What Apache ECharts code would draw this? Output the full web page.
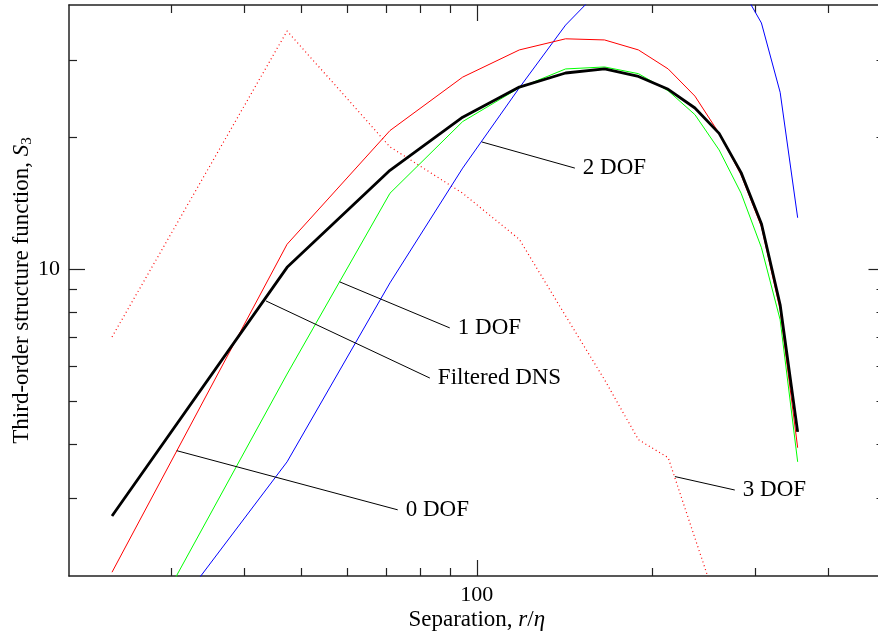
<!DOCTYPE html>
<html><head><meta charset="utf-8">
<script src="https://cdn.jsdelivr.net/npm/echarts@6/dist/echarts.min.js"></script>
<style>html,body{margin:0;padding:0;background:#fff}#c{width:878px;height:637px}</style>
</head><body><div id="c"></div>
<script>
// Separation r/eta (x values, shared by all curves)
const rEta = [23.7, 47.3, 71.0, 94.6, 118.3, 142.0, 165.6, 189.3, 212.9, 236.6, 260.3, 283.9, 307.6, 331.2, 354.9];
// Third-order structure function S3
const filteredDNS = [2.74, 10.1, 16.8, 22.2, 26.0, 28.0, 28.6, 27.5, 25.7, 23.3, 20.4, 16.6, 12.7, 8.30, 4.26];
const dof0 = [2.04, 11.4, 20.7, 27.4, 31.6, 33.5, 33.3, 31.6, 28.6, 24.8, 20.4, 16.4, 12.5, 8.08, 3.92];
const dof1 = [1.08, 5.77, 14.9, 21.7, 25.9, 28.6, 28.9, 27.9, 25.5, 22.5, 18.7, 14.9, 11.2, 7.67, 3.64];
const dof2 = [1.08, 3.64, 9.31, 17.0, 25.9, 36.0, 44.4, 50.0, 53.0, 54.0, 51.0, 43.9, 36.4, 25.3, 13.1];
const dof3 = [7.01, 34.9, 19.0, 14.9, 11.7, 7.83, 5.60, 4.09, 3.72, 2.44, 1.67];

// Annotation leader lines (data coordinates) and labels
const annoLabels = ['2 DOF', '1 DOF', 'Filtered DNS', '0 DOF', '3 DOF'];
const annoFrom = [[102.0, 19.5], [58.2, 9.36], [43.5, 8.47], [30.6, 3.86], [218.6, 3.37]];
const annoTo   = [[147.3, 17.0], [89.9, 7.35], [83.1, 5.65], [73.2, 2.83], [276.9, 3.14]];

// Axis ranges and ticks
const xRange = [20, 500];
const yRange = [2, 40];
const xMajorTicks = [100];
const xMinorTicks = [30, 40, 50, 60, 70, 80, 90, 200, 300, 400];
const yMajorTicks = [10];
const yMinorTicks = [3, 4, 5, 6, 7, 8, 9, 20, 30];

const FONT = '"Liberation Serif", "DejaVu Serif", serif';
const AX = '#222';
const FS = 23;

function pairs(xs, ys) { return ys.map((v, i) => [xs[i], v]); }

function xAx(pos, ticks, len, withLine, withLabel) {
  return {
    type: 'log', min: xRange[0], max: xRange[1], position: pos,
    axisLine: { show: withLine, lineStyle: { color: AX, width: 1.5 } },
    axisTick: { show: true, inside: true, length: len, customValues: ticks, lineStyle: { color: AX, width: 1.2 } },
    axisLabel: withLabel ? { show: true, customValues: ticks, margin: 8, fontFamily: FONT, fontSize: 22, color: '#000' } : { show: false },
    splitLine: { show: false }, minorTick: { show: false }
  };
}
function yAx(pos, ticks, len, withLine, withLabel) {
  return {
    type: 'log', min: yRange[0], max: yRange[1], position: pos,
    axisLine: { show: withLine, lineStyle: { color: AX, width: 1.5 } },
    axisTick: { show: true, inside: true, length: len, customValues: ticks, lineStyle: { color: AX, width: 1.2 } },
    axisLabel: withLabel ? { show: true, customValues: ticks, margin: 9, fontFamily: FONT, fontSize: 22, color: '#000' } : { show: false },
    splitLine: { show: false }, minorTick: { show: false }
  };
}

const xAxes = [
  Object.assign(xAx('bottom', xMajorTicks, 16, true, true), {
    name: 'Separation, {i|r}/{i|η}', nameLocation: 'middle', nameGap: 32, nameMoveOverlap: false,
    nameTextStyle: { fontFamily: FONT, fontSize: FS, color: '#000',
      rich: { i: { fontFamily: FONT, fontSize: FS, fontStyle: 'italic', color: '#000' } } }
  }),
  xAx('bottom', xMinorTicks, 8, false, false),
  xAx('top', xMajorTicks, 16, true, false),
  xAx('top', xMinorTicks, 8, false, false)
];
const yAxes = [
  Object.assign(yAx('left', yMajorTicks, 16, true, true), {
    name: 'Third-order structure function, {i|S}{s|3}', nameLocation: 'middle', nameGap: 34, nameMoveOverlap: false,
    nameTextStyle: { fontFamily: FONT, fontSize: FS, color: '#000',
      rich: { i: { fontFamily: FONT, fontSize: FS, fontStyle: 'italic', color: '#000' },
              s: { fontFamily: FONT, fontSize: 15, color: '#000', padding: [12, 0, 0, 0] } } }
  }),
  yAx('left', yMinorTicks, 8, false, false),
  yAx('right', yMajorTicks, 16, true, false),
  yAx('right', yMinorTicks, 8, false, false)
];

function curve(name, ys, color, width, type) {
  return {
    name, type: 'line', data: pairs(rEta, ys), showSymbol: false, symbol: 'none',
    lineStyle: { color, width, type: type || 'solid' }, clip: true, z: 3, animation: false
  };
}

const series = [
  curve('3 DOF', dof3, '#ff0000', 1.2, [1, 3]),
  curve('2 DOF', dof2, '#0000ff', 1),
  curve('1 DOF', dof1, '#00ff00', 1),
  curve('0 DOF', dof0, '#ff0000', 1),
  curve('Filtered DNS', filteredDNS, '#000000', 2.8)
];

annoLabels.forEach((lab, i) => {
  series.push({
    type: 'line', data: [annoFrom[i], annoTo[i]], showSymbol: false, symbol: 'none',
    lineStyle: { color: '#000', width: 1 }, z: 4, animation: false, silent: true,
    endLabel: { show: true, formatter: lab, distance: 8, fontFamily: FONT, fontSize: FS, color: '#000' }
  });
});

const chart = echarts.init(document.getElementById('c'), null, { renderer: 'canvas' });
chart.setOption({
  backgroundColor: '#fff',
  animation: false,
  grid: { left: 69, right: -6.5, top: 5, bottom: 61, containLabel: false, outerBoundsMode: 'none' },
  xAxis: xAxes,
  yAxis: yAxes,
  series
});
</script></body></html>
